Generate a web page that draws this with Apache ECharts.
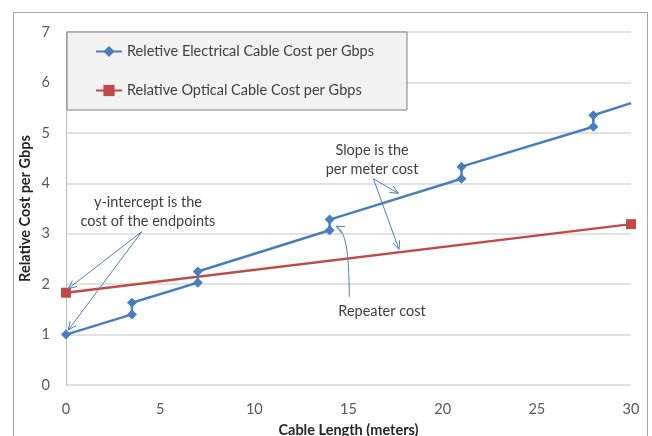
<!DOCTYPE html>
<html><head><meta charset="utf-8">
<script src="https://cdn.jsdelivr.net/npm/echarts@6/dist/echarts.min.js"></script>
<style>html,body{margin:0;padding:0;background:#fff}#c{width:652px;height:436px}</style>
</head><body><div id="c"></div>
<script>
// ---- data ----
const xTicks = [0, 5, 10, 15, 20, 25, 30];
const yTicks = [0, 1, 2, 3, 4, 5, 6, 7];
const elecX = [0, 3.5, 3.5, 7, 7, 14, 14, 21, 21, 28, 28, 30];
const elecY = [1.0, 1.4, 1.63, 2.03, 2.25, 3.07, 3.28, 4.09, 4.33, 5.12, 5.35, 5.59];
const optX = [0, 30];
const optY = [1.83, 3.19];
const seriesNames = ['Reletive Electrical Cable Cost per Gbps', 'Relative Optical Cable Cost per Gbps'];
const xTitle = 'Cable Length (meters)';
const yTitle = 'Relative Cost per Gbps';
// annotations in data coordinates
const noteTexts = ['y-intercept is the\ncost of the endpoints', 'Slope is the\nper meter cost', 'Repeater cost'];
const notePos = [[4.35, 3.43], [16.25, 4.46], [16.78, 1.47]];
const straightArrows = [
  [[4.02, 3.04], [0.12, 1.91]],
  [[4.02, 3.04], [0.12, 1.09]],
  [[16.32, 4.09], [17.65, 3.80]],
  [[16.32, 4.09], [17.68, 2.69]]
];
// curved arrow: start, cp1, cp2, end
const curveArrow = [[15.04, 1.75], [15.03, 2.67], [14.85, 3.05], [14.34, 3.15]];

const FONT = 'Lato';
const FS = 14.5;
const chart = echarts.init(document.getElementById('c'), null, {renderer: 'canvas'});

const elecData = elecX.map((x, i) => {
  const d = {value: [x, elecY[i]]};
  if (i === elecX.length - 1) d.symbol = 'none';
  return d;
});
const optData = optX.map((x, i) => [x, optY[i]]);

chart.setOption({
  animation: false,
  textStyle: {fontFamily: FONT},
  grid: {left: 66, right: 21, top: 32, bottom: 51, containLabel: false, outerBoundsMode: 'none'},
  legend: {
    orient: 'vertical', left: 67, top: 32,
    padding: [12, 33, 12, 28], itemGap: 24, itemWidth: 26, itemHeight: 14, itemTextGap: 4,
    backgroundColor: '#f2f2f2', borderColor: '#7f7f7f', borderWidth: 1,
    textStyle: {fontFamily: FONT, fontSize: FS, color: '#404040'},
    data: seriesNames
  },
  xAxis: {
    type: 'value', min: 0, max: 30, interval: 5,
    name: xTitle, nameLocation: 'middle', nameGap: 38, nameMoveOverlap: false,
    nameTextStyle: {fontFamily: FONT, fontSize: FS, fontWeight: 'bold', color: '#262626'},
    axisLine: {show: false}, axisTick: {show: false},
    axisLabel: {margin: 17, fontSize: FS, color: '#595959', fontFamily: FONT},
    splitLine: {show: false}
  },
  yAxis: {
    type: 'value', min: 0, max: 7, interval: 1,
    name: yTitle, nameLocation: 'middle', nameGap: 33, nameMoveOverlap: false,
    nameTextStyle: {fontFamily: FONT, fontSize: FS, fontWeight: 'bold', color: '#262626'},
    axisLine: {show: true, lineStyle: {color: '#bfbfbf', width: 1}}, axisTick: {show: false},
    axisLabel: {margin: 16, fontSize: FS, color: '#595959', fontFamily: FONT},
    splitLine: {show: true, lineStyle: {color: '#d9d9d9', width: 1.5}}
  },
  series: [
    {name: seriesNames[0], type: 'line', data: elecData, symbol: 'diamond', symbolSize: 10,
     lineStyle: {color: '#4a7ebb', width: 2.5}, itemStyle: {color: '#4a7ebb'}, z: 3},
    {name: seriesNames[1], type: 'line', data: optData, symbol: 'rect', symbolSize: 10,
     lineStyle: {color: '#be4b48', width: 2.5}, itemStyle: {color: '#be4b48'}, z: 2}
  ]
});

function px(p) { return chart.convertToPixel({gridIndex: 0}, p); }
function head(from, to) {
  const ang = Math.atan2(to[1] - from[1], to[0] - from[0]);
  const L = 9, a = 0.42;
  return [
    [to[0] - L * Math.cos(ang - a), to[1] - L * Math.sin(ang - a)],
    to,
    [to[0] - L * Math.cos(ang + a), to[1] - L * Math.sin(ang + a)]
  ];
}
const arrowStyle = {stroke: '#4a7ebb', lineWidth: 1, fill: null};
const g = [];
g.push({type: 'rect', left: 11, top: 10, shape: {width: 634, height: 440}, silent: true,
  style: {fill: null, stroke: '#a6a6a6', lineWidth: 1}, z: -10});
noteTexts.forEach((t, i) => {
  const p = px(notePos[i]);
  g.push({type: 'text', x: p[0], y: p[1], z: 10,
    style: {text: t, fill: '#404040', font: FS + 'px ' + FONT, align: 'center', verticalAlign: 'middle', lineHeight: 19}});
});
straightArrows.forEach(a => {
  const s = px(a[0]), e = px(a[1]);
  g.push({type: 'line', shape: {x1: s[0], y1: s[1], x2: e[0], y2: e[1]}, style: arrowStyle, z: 10});
  g.push({type: 'polyline', shape: {points: head(s, e)}, style: arrowStyle, z: 10});
});
{
  const [s, c1, c2, e] = curveArrow.map(px);
  g.push({type: 'bezierCurve', shape: {x1: s[0], y1: s[1], cpx1: c1[0], cpy1: c1[1], cpx2: c2[0], cpy2: c2[1], x2: e[0], y2: e[1]}, style: arrowStyle, z: 10});
  g.push({type: 'polyline', shape: {points: head(c2, e)}, style: arrowStyle, z: 10});
}
chart.setOption({graphic: g});
</script>
</body></html>
